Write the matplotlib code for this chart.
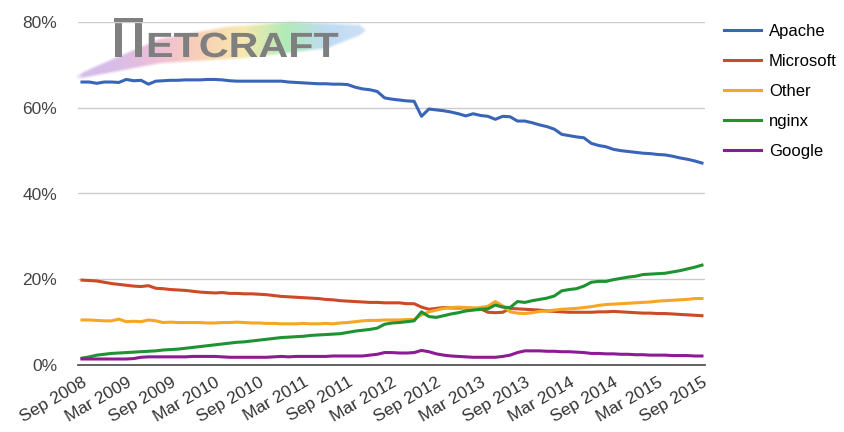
import numpy as np
import matplotlib
matplotlib.use('Agg')
import matplotlib.pyplot as plt
from matplotlib.colors import LinearSegmentedColormap
from matplotlib.textpath import TextPath
from matplotlib.font_manager import FontProperties
from matplotlib.patches import PathPatch, Rectangle
from matplotlib.transforms import Affine2D

plt.rcParams['font.family'] = ['Liberation Sans', 'DejaVu Sans']

# monthly share (%), Sep 2008 .. Sep 2015
apache = [66.0, 66.0, 65.7, 66.0, 66.0, 65.9, 66.6, 66.3, 66.4, 65.5,
          66.2, 66.3, 66.4, 66.4, 66.5, 66.5, 66.5, 66.6, 66.6, 66.5,
          66.3, 66.2, 66.2, 66.2, 66.2, 66.2, 66.2, 66.2, 66.0, 65.9,
          65.8, 65.7, 65.6, 65.6, 65.5, 65.5, 65.4, 64.8, 64.4, 64.2,
          63.8, 62.3, 62.0, 61.8, 61.6, 61.5, 58.0, 59.7, 59.5, 59.3,
          59.0, 58.6, 58.1, 58.6, 58.2, 58.0, 57.3, 58.0, 57.9, 56.9,
          56.9, 56.5, 56.0, 55.6, 55.0, 53.8, 53.5, 53.2, 53.0, 51.7,
          51.2, 50.9, 50.3, 50.0, 49.8, 49.6, 49.4, 49.3, 49.1, 49.0,
          48.7, 48.3, 48.0, 47.6, 47.1]
microsoft = [19.8, 19.7, 19.6, 19.3, 19.0, 18.8, 18.6, 18.4, 18.3, 18.5,
             17.9, 17.8, 17.6, 17.5, 17.4, 17.2, 17.0, 16.9, 16.8, 16.9,
             16.7, 16.7, 16.6, 16.6, 16.5, 16.4, 16.2, 16.0, 15.9, 15.8,
             15.7, 15.6, 15.5, 15.3, 15.2, 15.0, 14.9, 14.8, 14.7, 14.6,
             14.6, 14.5, 14.5, 14.5, 14.3, 14.3, 13.5, 13.0, 13.2, 13.4,
             13.3, 13.3, 13.3, 13.2, 13.1, 12.3, 12.2, 12.3, 13.2, 13.1,
             13.0, 12.9, 12.8, 12.6, 12.5, 12.4, 12.3, 12.3, 12.3, 12.3,
             12.4, 12.4, 12.5, 12.4, 12.3, 12.2, 12.1, 12.1, 12.0, 12.0,
             11.9, 11.8, 11.7, 11.6, 11.5]
other = [10.5, 10.5, 10.4, 10.3, 10.3, 10.7, 10.1, 10.2, 10.1, 10.5,
         10.3, 9.9, 10.0, 9.9, 9.9, 9.9, 9.9, 9.8, 9.8, 9.9,
         9.9, 10.0, 9.9, 9.8, 9.8, 9.7, 9.7, 9.6, 9.6, 9.6,
         9.7, 9.6, 9.6, 9.7, 9.6, 9.8, 9.9, 10.1, 10.3, 10.4,
         10.4, 10.5, 10.5, 10.5, 10.6, 10.6, 11.7, 12.4, 12.8, 13.2,
         13.4, 13.5, 13.4, 13.3, 13.4, 13.7, 14.8, 13.8, 12.4, 12.1,
         12.0, 12.2, 12.5, 12.6, 12.8, 13.0, 13.1, 13.2, 13.4, 13.6,
         13.9, 14.1, 14.2, 14.3, 14.4, 14.5, 14.6, 14.7, 14.9, 15.0,
         15.1, 15.2, 15.3, 15.5, 15.5]
nginx = [1.6, 1.9, 2.3, 2.5, 2.7, 2.8, 2.9, 3.0, 3.1, 3.2,
         3.3, 3.5, 3.6, 3.7, 3.9, 4.1, 4.3, 4.5, 4.7, 4.9,
         5.1, 5.3, 5.4, 5.6, 5.8, 6.0, 6.2, 6.4, 6.5, 6.6,
         6.7, 6.9, 7.0, 7.1, 7.2, 7.3, 7.6, 7.9, 8.1, 8.3,
         8.6, 9.5, 9.8, 9.9, 10.1, 10.3, 12.4, 11.3, 11.1, 11.5,
         11.9, 12.2, 12.6, 12.8, 13.0, 13.1, 14.0, 13.5, 13.4, 14.8,
         14.6, 15.0, 15.3, 15.6, 16.1, 17.3, 17.6, 17.8, 18.4, 19.3,
         19.5, 19.5, 19.9, 20.2, 20.5, 20.7, 21.1, 21.2, 21.3, 21.4,
         21.7, 22.0, 22.4, 22.8, 23.3]
google = [1.4, 1.4, 1.4, 1.4, 1.4, 1.4, 1.4, 1.5, 1.8, 1.9,
          1.9, 1.9, 1.9, 1.9, 1.9, 2.0, 2.0, 2.0, 2.0, 1.9,
          1.8, 1.8, 1.8, 1.8, 1.8, 1.8, 1.9, 2.0, 1.9, 2.0,
          2.0, 2.0, 2.0, 2.0, 2.1, 2.1, 2.1, 2.1, 2.1, 2.3,
          2.5, 2.9, 2.9, 2.8, 2.8, 2.9, 3.4, 3.1, 2.6, 2.3,
          2.1, 2.0, 1.9, 1.8, 1.8, 1.8, 1.8, 2.0, 2.3, 2.9,
          3.3, 3.3, 3.3, 3.2, 3.2, 3.1, 3.1, 3.0, 2.9, 2.7,
          2.7, 2.6, 2.6, 2.5, 2.5, 2.4, 2.4, 2.3, 2.3, 2.3,
          2.2, 2.2, 2.2, 2.1, 2.1]

tick_labels = ['Sep 2008', 'Mar 2009', 'Sep 2009', 'Mar 2010', 'Sep 2010',
               'Mar 2011', 'Sep 2011', 'Mar 2012', 'Sep 2012', 'Mar 2013',
               'Sep 2013', 'Mar 2014', 'Sep 2014', 'Mar 2015', 'Sep 2015']

series = [('Apache', apache, '#3a64b8'),
          ('Microsoft', microsoft, '#cc4a25'),
          ('Other', other, '#f5a623'),
          ('nginx', nginx, '#1f9232'),
          ('Google', google, '#8e1a96')]

fig = plt.figure(figsize=(8.44, 4.32), dpi=100)

# Netcraft logo (drawn first so the chart sits on top)
lax = fig.add_axes([70/844, 1 - 88/432, 310/844, 85/432])
lax.set_xlim(70, 380)
lax.set_ylim(88, 3)
lax.axis('off')
gx, gy = np.meshgrid(np.linspace(70, 380, 400), np.linspace(3, 88, 120))
top = np.interp(gx, [76, 93, 160, 227, 293, 360, 368], [74, 66, 37, 25, 20, 23, 30])
bot = np.interp(gx, [76, 160, 243, 327, 360, 368], [81, 65, 60, 50, 37, 31])
soft = 3.5
a = np.clip((gy - top) / soft, 0, 1) * np.clip((bot - gy) / soft, 0, 1)
a *= np.clip((gx - 75) / 8, 0, 1) * np.clip((370 - gx) / 6, 0, 1)
rain = LinearSegmentedColormap.from_list('rain', ['#c3a3e3', '#caa3df', '#e9a6c6',
                                                  '#f6bf9a', '#f6e08e', '#93e49b',
                                                  '#a6cdf0', '#bcd6f3'])
rgba = rain((gx - 75) / 295)
rgba[..., 3] = a * 0.72
lax.imshow(rgba, extent=(70, 380, 88, 3), aspect='auto', interpolation='bilinear')
logo_gray = '#7f7f7f'
# stylised N drawn as a Pi: top bar and two thick stems
lax.add_patch(Rectangle((114, 18), 29, 5, fc=logo_gray, ec='none'))
lax.add_patch(Rectangle((115, 18), 7, 39, fc=logo_gray, ec='none'))
lax.add_patch(Rectangle((135, 18), 7, 39, fc=logo_gray, ec='none'))
fp = FontProperties(family='Liberation Sans', weight='bold')
word = TextPath((0, 0), 'ETCRAFT', size=35, prop=fp)
word = word.transformed(Affine2D().scale(1.18, -1).translate(146, 57))
lax.add_patch(PathPatch(word, fc=logo_gray, ec='none'))

ax = fig.add_axes([78/844, 1 - 365/432, (705 - 78)/844, (365 - 22)/432])
ax.patch.set_alpha(0)

x = np.arange(len(apache))
for name, vals, col in series:
    ax.plot(x, vals, color=col, lw=2.2, label=name, solid_joinstyle='round')

ax.set_xlim(-0.54, 84.41)
ax.set_ylim(0, 80)
ax.set_yticks([0, 20, 40, 60, 80])
ax.set_yticklabels(['0%', '20%', '40%', '60%', '80%'], fontsize=12.5, color='#444444')
ax.set_xticks(np.arange(0, 85, 6))
ax.set_xticklabels(tick_labels, rotation=30, ha='right', rotation_mode='anchor',
                   fontsize=12.5, color='#333333')
ax.tick_params(length=0)
ax.tick_params(axis='y', pad=15)
ax.tick_params(axis='x', pad=7)
ax.grid(axis='y', color='#cccccc', lw=1)
ax.set_axisbelow(True)
for s in ['top', 'right', 'left']:
    ax.spines[s].set_visible(False)
ax.spines['bottom'].set_color('#555555')
ax.spines['bottom'].set_linewidth(1.3)

ax.legend(loc='upper left', bbox_to_anchor=(709/844, 1 - 9/432),
          bbox_transform=fig.transFigure, frameon=False, fontsize=12,
          handlelength=2.2, labelspacing=0.9, handletextpad=0.5)

fig.savefig('out.png', dpi=100, facecolor='white')
